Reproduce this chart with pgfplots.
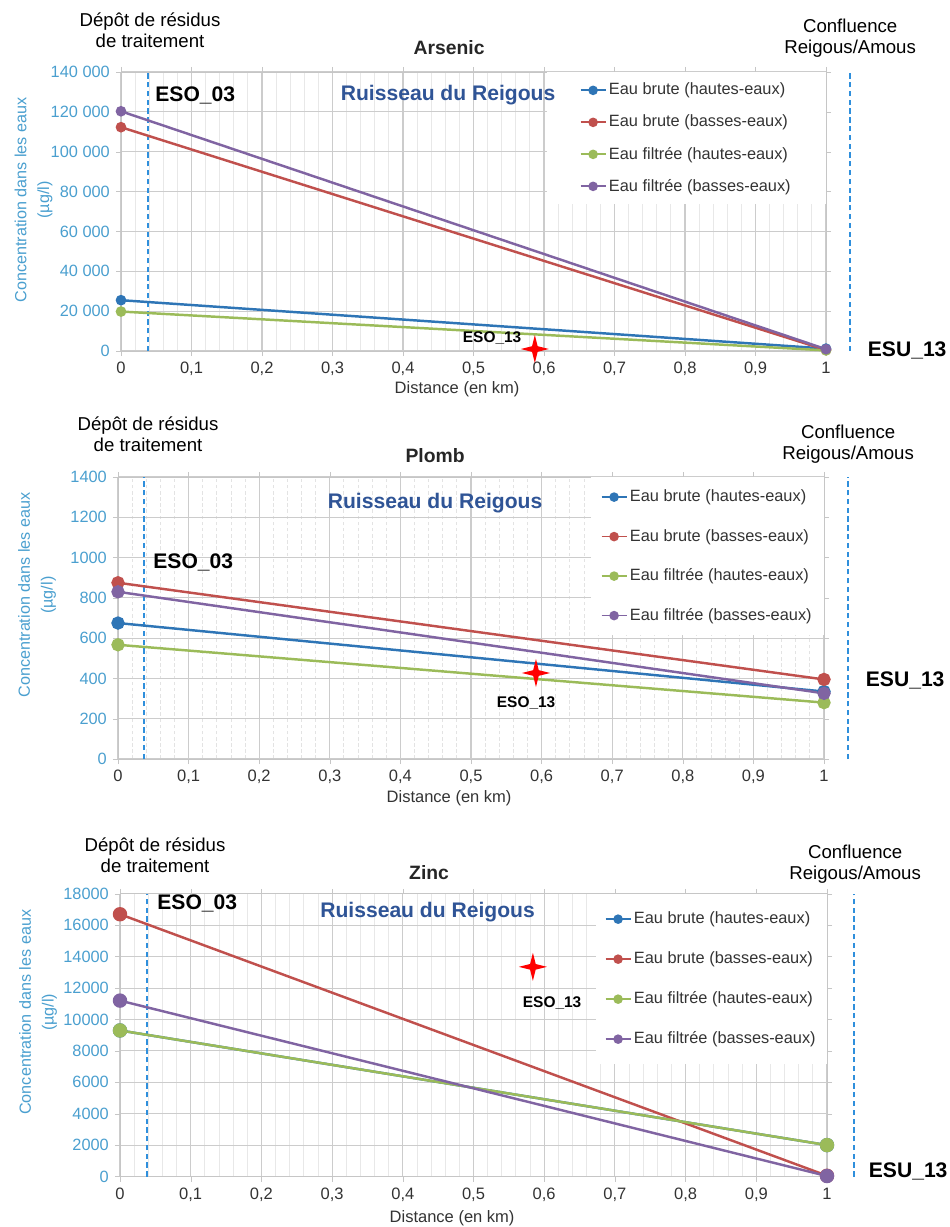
\documentclass[border=0pt]{standalone}
\usepackage{pgfplots}
\pgfplotsset{compat=1.18}
\usepackage{fontspec}
\setmainfont{Liberation Sans}

\definecolor{cblue}{HTML}{2E75B6}
\definecolor{cred}{HTML}{C0504D}
\definecolor{cgreen}{HTML}{9BBB59}
\definecolor{cpurple}{HTML}{8064A2}
\definecolor{aqua}{HTML}{4A9FCF}
\definecolor{dashc}{HTML}{2F8FDC}
\definecolor{riv}{HTML}{2F5496}
\definecolor{txt}{HTML}{333333}

% four-pointed star used for ESO_13
\pgfdeclareplotmark{star4}{%
  \pgfpathmoveto{\pgfqpoint{0pt}{\pgfplotmarksize}}%
  \pgfpathlineto{\pgfqpoint{0.2\pgfplotmarksize}{0.2\pgfplotmarksize}}%
  \pgfpathlineto{\pgfqpoint{\pgfplotmarksize}{0pt}}%
  \pgfpathlineto{\pgfqpoint{0.2\pgfplotmarksize}{-0.2\pgfplotmarksize}}%
  \pgfpathlineto{\pgfqpoint{0pt}{-\pgfplotmarksize}}%
  \pgfpathlineto{\pgfqpoint{-0.2\pgfplotmarksize}{-0.2\pgfplotmarksize}}%
  \pgfpathlineto{\pgfqpoint{-\pgfplotmarksize}{0pt}}%
  \pgfpathlineto{\pgfqpoint{-0.2\pgfplotmarksize}{0.2\pgfplotmarksize}}%
  \pgfpathclose\pgfusepathqfill}

\pgfplotsset{
  panel/.style={
    scale only axis, xmin=0, xmax=1, ymin=0, clip=false,
    anchor=south west,
    xtick={0,0.1,0.2,0.3,0.4,0.5,0.6,0.7,0.8,0.9,1},
    xticklabels={0,{0,1},{0,2},{0,3},{0,4},{0,5},{0,6},{0,7},{0,8},{0,9},1},
    minor x tick num=4,
    xmajorgrids, ymajorgrids, xminorgrids,
    major grid style={gray!40, line width=0.6pt},
    minor grid style={gray!18, line width=0.5pt},
    axis line style={gray!45}, tick style={gray!45},
    tick align=outside, major tick length=0.1cm, minor tick length=0pt,
    scaled y ticks=false,
    xticklabel style={font=\fontsize{9.4}{11}\selectfont, text=txt},
    yticklabel style={font=\fontsize{9.3}{11}\selectfont, text=aqua},
    every axis plot/.append style={line width=1.4pt},
    legend cell align=left,
    legend image code/.code={\draw[mark repeat=2,mark phase=2,##1,mark size=2.2pt,line width=1pt]
      plot coordinates {(0cm,0cm) (0.25cm,0cm) (0.5cm,0cm)};},
    legend style={fill=white, draw=none, at={(1,1)}, anchor=north east,
      font=\fontsize{9.3}{11}\selectfont, text=txt},
  },
  esostar/.style={only marks, mark=star4, mark size=8pt, color=red, forget plot},
  vdash/.style={color=dashc, line width=0.9pt, dash pattern=on 3pt off 2pt, mark=none, forget plot},
}

\begin{document}
\begin{tikzpicture}
\path[use as bounding box] (0,0) rectangle (19cm,-24.54cm);

% ---------------- Arsenic
\begin{axis}[panel,
  at={(2.42cm,-7.02cm)}, width=14.1cm, height=5.58cm,
  ymax=140000, ytick={0,20000,40000,60000,80000,100000,120000,140000},
  yticklabels={0,20 000,40 000,60 000,80 000,100 000,120 000,140 000},
  legend style={inner xsep=0.65cm, inner ysep=0.04cm,
    nodes={inner xsep=0.05cm, inner ysep=0pt, minimum height=0.64cm}},
]
\addplot[vdash] coordinates {(0.038,0) (0.038,140000)};
\addplot[vdash] coordinates {(1.034,0) (1.034,140000)};
\addplot[color=cblue, mark=*, mark size=2.3pt] coordinates {(0,25500) (1,1200)};
\addplot[color=cred, mark=*, mark size=2.3pt] coordinates {(0,112300) (1,500)};
\addplot[color=cgreen, mark=*, mark size=2.3pt] coordinates {(0,19800) (1,300)};
\addplot[color=cpurple, mark=*, mark size=2.3pt] coordinates {(0,120300) (1,900)};
\addplot[esostar] coordinates {(0.587,1000)};
\legend{Eau brute (hautes-eaux), Eau brute (basses-eaux), Eau filtrée (hautes-eaux), Eau filtrée (basses-eaux)}
\end{axis}

% ---------------- Plomb
\begin{axis}[panel,
  at={(2.36cm,-15.18cm)}, width=14.12cm, height=5.64cm,
  ymax=1400, ytick={0,200,400,600,800,1000,1200,1400},
  yticklabels={0,200,400,600,800,1000,1200,1400},
  minor grid style={gray!22, line width=0.5pt, dash pattern=on 2pt off 1.5pt},
  legend style={inner xsep=0.19cm, inner ysep=0pt,
    nodes={inner xsep=0.05cm, inner ysep=0pt, minimum height=0.79cm}},
]
\addplot[vdash] coordinates {(0.037,0) (0.037,1400)};
\addplot[vdash] coordinates {(1.034,0) (1.034,1400)};
\addplot[color=cblue, mark=*, mark size=3.1pt] coordinates {(0,675) (1,335)};
\addplot[color=cred, mark=*, mark size=3.1pt] coordinates {(0,875) (1,395)};
\addplot[color=cgreen, mark=*, mark size=3.1pt] coordinates {(0,567) (1,280)};
\addplot[color=cpurple, mark=*, mark size=3.1pt] coordinates {(0,830) (1,326)};
\addplot[esostar] coordinates {(0.592,427)};
\legend{Eau brute (hautes-eaux), Eau brute (basses-eaux), Eau filtrée (hautes-eaux), Eau filtrée (basses-eaux)}
\end{axis}

% ---------------- Zinc
\begin{axis}[panel,
  at={(2.40cm,-23.53cm)}, width=14.14cm, height=5.654cm,
  ymax=18000, ytick={0,2000,4000,6000,8000,10000,12000,14000,16000,18000},
  yticklabels={0,2000,4000,6000,8000,10000,12000,14000,16000,18000},
  legend style={inner xsep=0.17cm, inner ysep=0.1cm,
    nodes={inner xsep=0.05cm, inner ysep=0pt, minimum height=0.8cm}},
]
\addplot[vdash] coordinates {(0.038,0) (0.038,18000)};
\addplot[vdash] coordinates {(1.038,0) (1.038,18000)};
\addplot[color=cblue, mark=*, mark size=3.4pt] coordinates {(0,9300) (1,2000)};
\addplot[color=cred, mark=*, mark size=3.4pt] coordinates {(0,16700) (1,50)};
\addplot[color=cgreen, mark=*, mark size=3.4pt] coordinates {(0,9300) (1,2000)};
\addplot[color=cpurple, mark=*, mark size=3.4pt] coordinates {(0,11200) (1,30)};
\addplot[esostar] coordinates {(0.584,13350)};
\legend{Eau brute (hautes-eaux), Eau brute (basses-eaux), Eau filtrée (hautes-eaux), Eau filtrée (basses-eaux)}
\end{axis}

% ---------------- texts, placed in reference pixels
\begin{scope}[x=0.02cm, y=-0.02cm]
\tikzset{
  side/.style={align=center, font=\fontsize{10.6}{11.8}\selectfont},
  ttl/.style={font=\fontsize{11}{13}\selectfont\bfseries, text=black!85},
  big/.style={font=\fontsize{12}{14}\selectfont\bfseries},
  lbl/.style={font=\fontsize{8.8}{10}\selectfont\bfseries},
  ylab/.style={rotate=90, align=center, text=aqua, font=\fontsize{9.2}{13}\selectfont},
  xlab/.style={text=txt, font=\fontsize{9.4}{11}\selectfont},
}
% Arsenic
\node[side] at (150,30) {Dépôt de résidus\\de traitement};
\node[side] at (850,38) {Confluence\\Reigous/Amous};
\node[ttl] at (449,48) {Arsenic};
\node[big, anchor=west, inner sep=0pt] at (155,95) {ESO\_03};
\node[big, text=riv] at (448,95) {Ruisseau du Reigous};
\node[lbl] at (492,338) {ESO\_13};
\node[big] at (907,350) {ESU\_13};
\node[ylab] at (33.5,200) {Concentration dans les eaux\\(µg/l)};
\node[xlab] at (457,389) {Distance (en km)};
% Plomb
\node[side] at (148,434) {Dépôt de résidus\\de traitement};
\node[side] at (848,444) {Confluence\\Reigous/Amous};
\node[ttl] at (435,455) {Plomb};
\node[big, anchor=west, inner sep=0pt] at (153,562) {ESO\_03};
\node[big, text=riv] at (435,503) {Ruisseau du Reigous};
\node[lbl] at (526,703) {ESO\_13};
\node[big] at (905,680) {ESU\_13};
\node[ylab] at (37,595) {Concentration dans les eaux\\(µg/l)};
\node[xlab] at (449,798) {Distance (en km)};
% Zinc
\node[side] at (155,855) {Dépôt de résidus\\de traitement};
\node[side] at (855,864) {Confluence\\Reigous/Amous};
\node[ttl] at (429,872) {Zinc};
\node[big, anchor=west, inner sep=0pt] at (157,903) {ESO\_03};
\node[big, text=riv] at (427.5,912) {Ruisseau du Reigous};
\node[lbl] at (552,1003) {ESO\_13};
\node[big] at (908,1171) {ESU\_13};
\node[ylab] at (38,1012) {Concentration dans les eaux\\(µg/l)};
\node[xlab] at (452,1218) {Distance (en km)};
\end{scope}
\end{tikzpicture}
\end{document}
